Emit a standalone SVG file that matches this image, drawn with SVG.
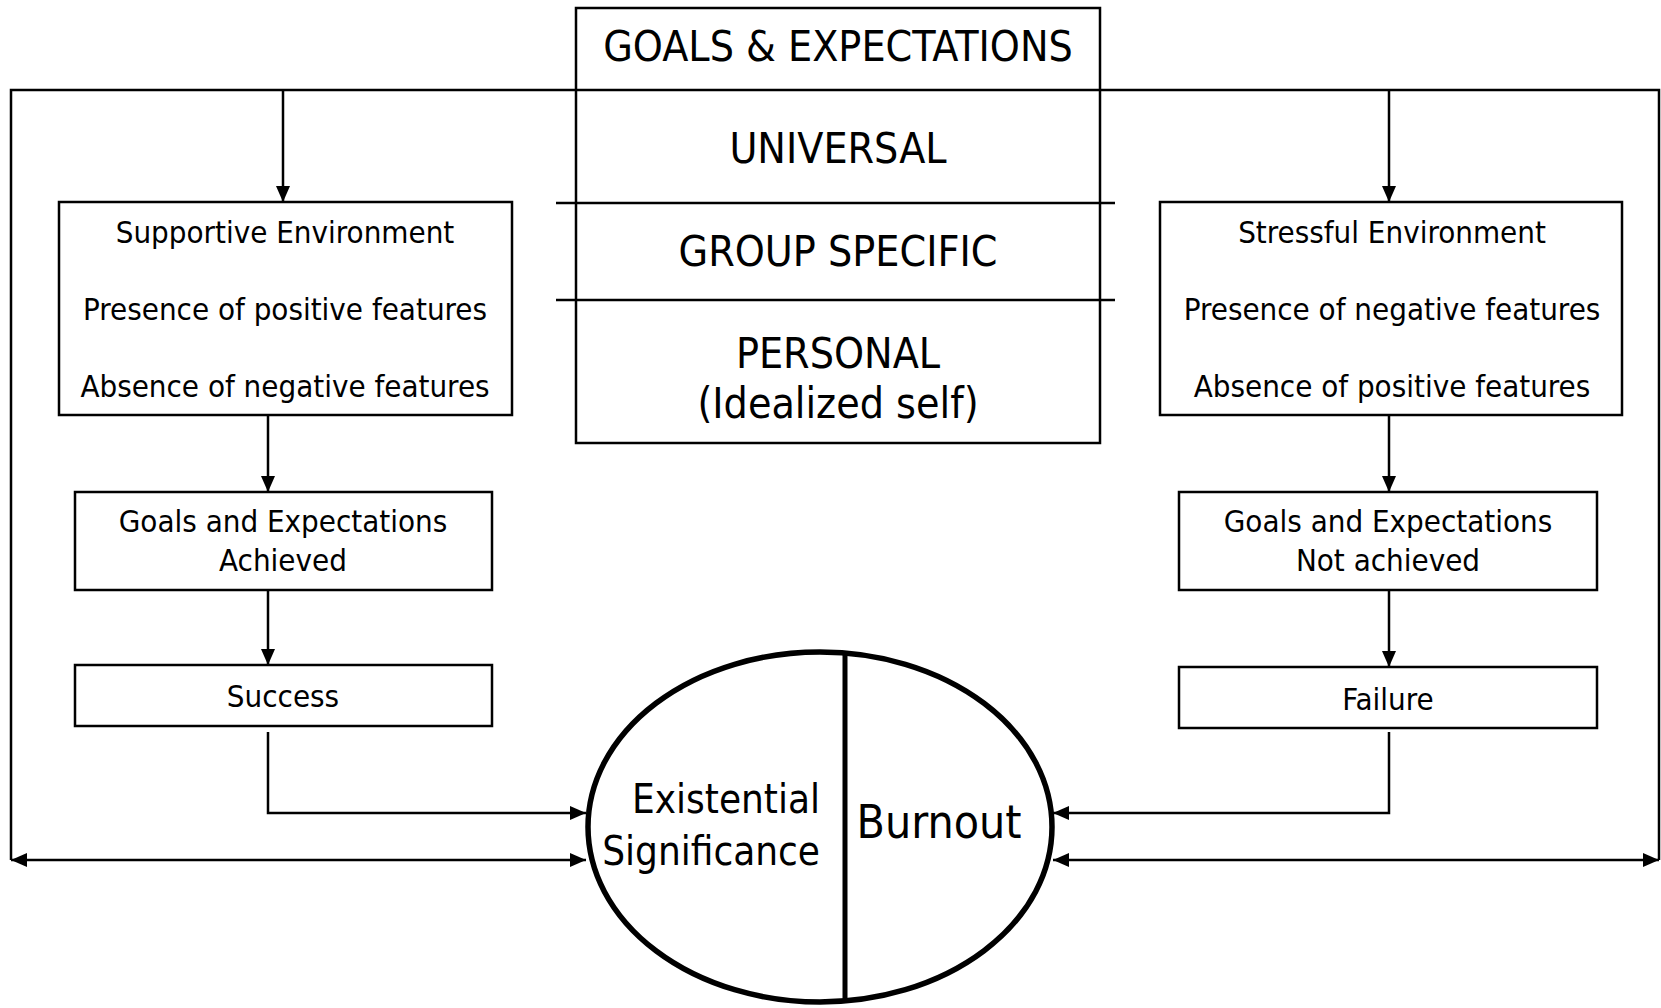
<svg xmlns="http://www.w3.org/2000/svg" width="1661" height="1008" viewBox="0 0 1661 1008">
<style>
.box{fill:#fff;stroke:#000;stroke-width:2.5}
.ln{fill:none;stroke:#000;stroke-width:2.5}
text{font-family:"DejaVu Sans Condensed","DejaVu Sans","Liberation Sans",sans-serif;fill:#000;text-anchor:middle}
.s{font-size:31px}
.c{font-size:42.5px}
</style>
<defs>
<marker id="arr" viewBox="0 0 16 14" refX="16" refY="7" markerWidth="16" markerHeight="14" markerUnits="userSpaceOnUse" orient="auto-start-reverse">
<path d="M0,0 L16,7 L0,14 z" fill="#000"/>
</marker>
</defs>
<rect width="1661" height="1008" fill="#fff"/>
<g id="center">
<rect class="box" x="576" y="8" width="524" height="435"/>
<line class="ln" x1="556" y1="203" x2="1115" y2="203"/>
<line class="ln" x1="556" y1="300" x2="1115" y2="300"/>
<text class="c" x="838" y="61">GOALS &amp; EXPECTATIONS</text>
<text class="c" x="838" y="163">UNIVERSAL</text>
<text class="c" x="838" y="266">GROUP SPECIFIC</text>
<text class="c" x="838" y="368">PERSONAL</text>
<text class="c" x="838" y="418">(Idealized self)</text>
</g>
<g id="connectors">
<path class="ln" d="M11,860 V90 H1659 V860"/>
<path class="ln" d="M11,860 H586" marker-start="url(#arr)" marker-end="url(#arr)"/>
<path class="ln" d="M1053,860 H1659" marker-start="url(#arr)" marker-end="url(#arr)"/>
<path class="ln" d="M283,90 V202" marker-end="url(#arr)"/>
<path class="ln" d="M1389,90 V202" marker-end="url(#arr)"/>
<path class="ln" d="M268,415 V492" marker-end="url(#arr)"/>
<path class="ln" d="M268,590 V665" marker-end="url(#arr)"/>
<path class="ln" d="M268,732 V813 H586" marker-end="url(#arr)"/>
<path class="ln" d="M1389,415 V492" marker-end="url(#arr)"/>
<path class="ln" d="M1389,590 V667" marker-end="url(#arr)"/>
<path class="ln" d="M1389,732 V813 H1053" marker-end="url(#arr)"/>
</g>
<g id="supportive">
<rect class="box" x="59" y="202" width="453" height="213"/>
<text class="s" x="285" y="243">Supportive Environment</text>
<text class="s" x="285" y="320">Presence of positive features</text>
<text class="s" x="285" y="397">Absence of negative features</text>
</g>
<g id="stressful">
<rect class="box" x="1160" y="202" width="462" height="213"/>
<text class="s" x="1392" y="243">Stressful Environment</text>
<text class="s" x="1392" y="320">Presence of negative features</text>
<text class="s" x="1392" y="397">Absence of positive features</text>
</g>
<g id="achieved">
<rect class="box" x="75" y="492" width="417" height="98"/>
<text class="s" x="283" y="532">Goals and Expectations</text>
<text class="s" x="283" y="571">Achieved</text>
</g>
<g id="notachieved">
<rect class="box" x="1179" y="492" width="418" height="98"/>
<text class="s" x="1388" y="532">Goals and Expectations</text>
<text class="s" x="1388" y="571">Not achieved</text>
</g>
<g id="success">
<rect class="box" x="75" y="665" width="417" height="61"/>
<text class="s" x="283" y="707">Success</text>
</g>
<g id="failure">
<rect class="box" x="1179" y="667" width="418" height="61"/>
<text class="s" x="1388" y="710">Failure</text>
</g>
<g id="outcome">
<ellipse cx="820" cy="827" rx="232" ry="175" fill="#fff" stroke="#000" stroke-width="5.5"/>
<line x1="845" y1="652" x2="845" y2="1002" stroke="#000" stroke-width="5"/>
<text x="820" y="813" font-size="40" style="text-anchor:end">Existential</text>
<text x="820" y="865" font-size="40" style="text-anchor:end">Significance</text>
<text x="939" y="838" font-size="46">Burnout</text>
</g>
</svg>
